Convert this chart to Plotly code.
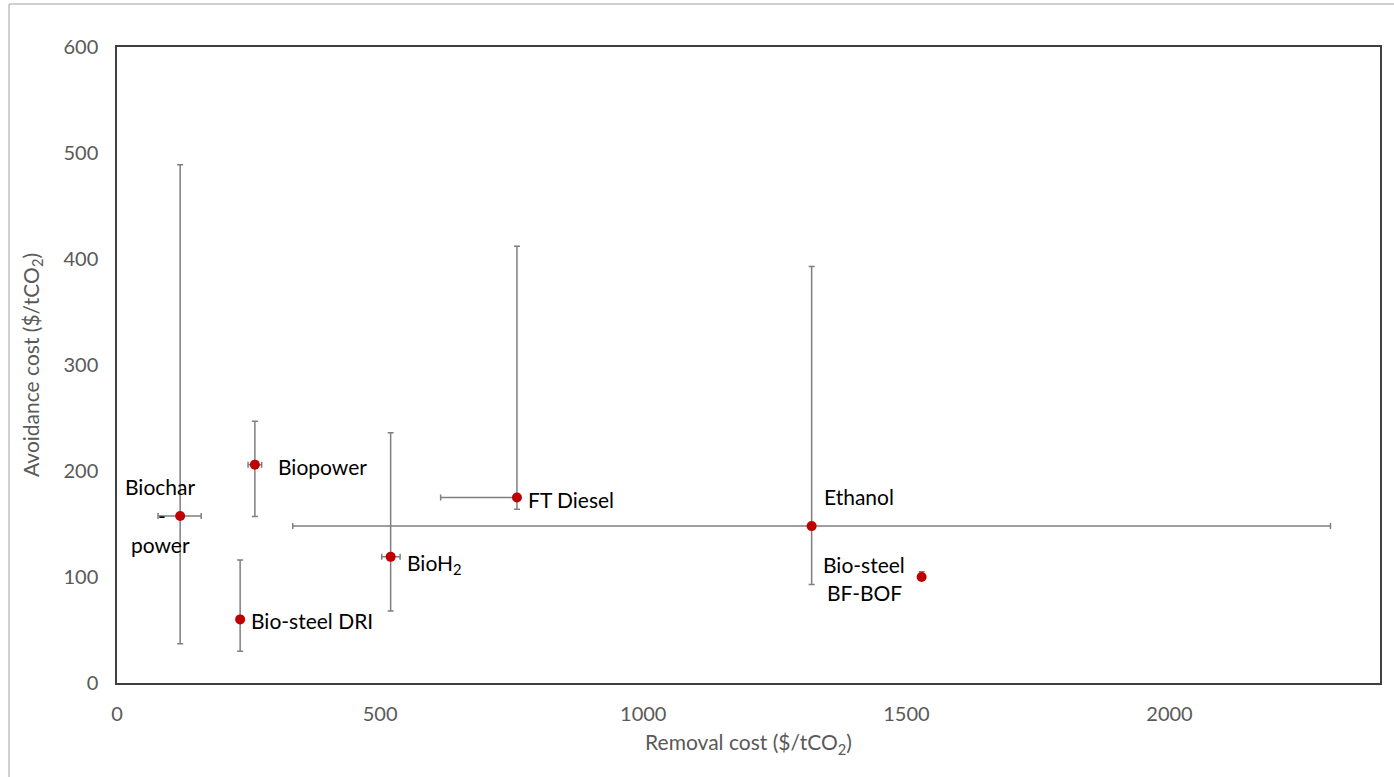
import plotly.graph_objects as go

# Data
names = ["Biochar-power", "Biopower", "Bio-steel DRI", "BioH2", "FT Diesel", "Ethanol", "Bio-steel BF-BOF"]
removal_cost = [120, 262, 234, 520, 760, 1320, 1529]
removal_err_plus = [40, 13, 0, 18, 0, 986, 0]
removal_err_minus = [42, 13, 0, 17, 145, 986, 0]
avoidance_cost = [157.5, 206, 60, 119, 175, 148, 100]
avoidance_err_plus = [331.5, 41, 56, 117, 237, 245, 5]
avoidance_err_minus = [120.5, 49, 30, 51, 11, 55, 0]

x_ticks = [0, 500, 1000, 1500, 2000]
y_ticks = [0, 100, 200, 300, 400, 500, 600]

FONT = "Lato, 'Open Sans', sans-serif"
err_color = "#7f7f7f"
tick_color = "#595959"

fig = go.Figure()
fig.add_trace(go.Scatter(
    x=removal_cost, y=avoidance_cost, mode="markers",
    marker=dict(color="#C00000", size=10),
    error_x=dict(type="data", symmetric=False, array=removal_err_plus,
                 arrayminus=removal_err_minus, color=err_color, thickness=1.5, width=3),
    error_y=dict(type="data", symmetric=False, array=avoidance_err_plus,
                 arrayminus=avoidance_err_minus, color=err_color, thickness=1.5, width=3),
    hovertext=names, showlegend=False,
))

# Labels (data-coordinate positions)
labels = [
    (82, 185, "Biochar", "center"),
    (86, 158, "-", "center"),
    (82, 131, "power", "center"),
    (302, 204, "Biopower", "left"),
    (250, 59, "Bio-steel DRI", "left"),
    (548, 112, "BioH<sub>2</sub>", "left"),
    (778, 173, "FT Diesel", "left"),
    (1340, 176, "Ethanol", "left"),
    (1420, 112, "Bio-steel", "center"),
    (1420, 85, "BF-BOF", "center"),
]
for lx, ly, txt, anchor in labels:
    fig.add_annotation(x=lx, y=ly, text=txt, showarrow=False, xanchor=anchor,
                       yanchor="middle", font=dict(family=FONT, size=21, color="#000000"))

# Outer light gray frame (top and left)
fig.add_shape(type="line", xref="paper", yref="paper",
              x0=(9 - 117) / 1263, x1=(1394 - 117) / 1263,
              y0=1 + (47 - 4) / 636, y1=1 + (47 - 4) / 636,
              line=dict(color="#c0c0c0", width=1.5))
fig.add_shape(type="line", xref="paper", yref="paper",
              x0=(9 - 117) / 1263, x1=(9 - 117) / 1263,
              y0=1 + (47 - 4) / 636, y1=-(777 - 683) / 636,
              line=dict(color="#c0c0c0", width=1.5))

fig.update_xaxes(range=[0, 2400], tickvals=x_ticks, showgrid=False, zeroline=False,
                 showline=True, linecolor="#404040", linewidth=1.5, mirror=True,
                 ticks="", ticklabelstandoff=12,
                 tickfont=dict(family=FONT, size=20, color=tick_color),
                 title=dict(text="Removal cost ($/tCO<sub>2</sub>)", standoff=12,
                            font=dict(family=FONT, size=21, color=tick_color)))
fig.update_yaxes(range=[0, 600], tickvals=y_ticks, showgrid=False, zeroline=False,
                 showline=True, linecolor="#404040", linewidth=1.5, mirror=True,
                 ticks="", ticklabelstandoff=13,
                 tickfont=dict(family=FONT, size=20, color=tick_color),
                 title=dict(text="Avoidance cost ($/tCO<sub>2</sub>)", standoff=18,
                            font=dict(family=FONT, size=21, color=tick_color)))

fig.update_layout(width=1394, height=777, paper_bgcolor="white", plot_bgcolor="white",
                  margin=dict(l=117, r=14, t=47, b=94))

fig.write_html("out.html", config={"displayModeBar": False},
               post_script="document.body.style.margin='0';document.body.style.overflow='hidden';")
